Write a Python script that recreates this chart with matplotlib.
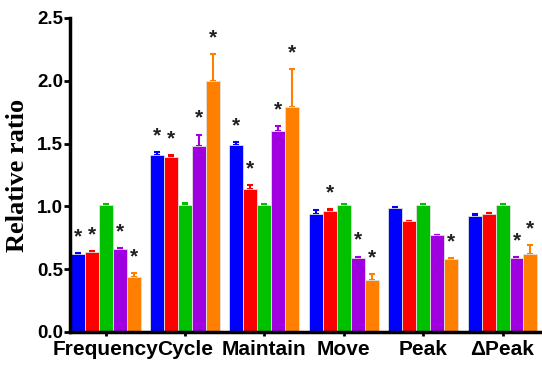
#!/usr/bin/env python3

import numpy as np
import matplotlib
matplotlib.use('Agg')
import matplotlib.pyplot as plt


# groups on the x axis
categories = ['Frequency', 'Cycle', 'Maintain', 'Move', 'Peak', '\u0394Peak']

# bar heights, one list per colour (blue, red, green, purple, orange)
blue = [0.62, 1.41, 1.49, 0.94, 0.99, 0.92]
red = [0.64, 1.39, 1.14, 0.96, 0.88, 0.94]
green = [1.01, 1.01, 1.01, 1.01, 1.01, 1.01]
purple = [0.66, 1.48, 1.60, 0.59, 0.77, 0.59]
orange = [0.44, 2.00, 1.79, 0.41, 0.58, 0.62]

# upper error (SEM) for each bar
blue_err = [0.005, 0.02, 0.02, 0.03, 0.005, 0.02]
red_err = [0.005, 0.02, 0.03, 0.02, 0.0, 0.01]
green_err = [0.01, 0.02, 0.005, 0.01, 0.005, 0.01]
purple_err = [0.005, 0.09, 0.04, 0.01, 0.005, 0.005]
orange_err = [0.03, 0.21, 0.30, 0.05, 0.01, 0.07]

# significance marks (1 = star above bar)
blue_sig = [1, 1, 1, 0, 0, 0]
red_sig = [1, 1, 1, 1, 0, 0]
green_sig = [0, 0, 0, 0, 0, 0]
purple_sig = [1, 1, 1, 1, 0, 1]
orange_sig = [1, 1, 1, 1, 1, 1]

yticks = [0.0, 0.5, 1.0, 1.5, 2.0, 2.5]


def plot_graph():
	fig = plt.figure(figsize=(5.42, 3.66), dpi=100)
	ax = fig.add_axes([0.129, 0.093, 0.867, 0.858])

	series = [
		(blue, blue_err, blue_sig, '#0000ff'),
		(red, red_err, red_sig, '#ff0000'),
		(green, green_err, green_sig, '#00c000'),
		(purple, purple_err, purple_sig, '#a000e0'),
		(orange, orange_err, orange_sig, '#ff8000'),
	]

	x = np.arange(len(categories))
	width = 0.176
	n = len(series)
	for i, (vals, errs, sigs, col) in enumerate(series):
		pos = x + (i - (n - 1) / 2) * width
		ax.bar(pos, vals, width, color=col, edgecolor='#e0e0e0', linewidth=0.6, zorder=2)
		# only the upper half of the error bar is shown
		ax.errorbar(pos, vals, yerr=[np.zeros(len(vals)), errs], fmt='none',
			ecolor=col, elinewidth=1.5, capsize=2.5, capthick=1.5, zorder=1)
		for p, v, e, s in zip(pos, vals, errs, sigs):
			if s:
				ax.annotate('*', (p, v + e), xytext=(0, 5), textcoords='offset points',
					ha='center', va='bottom', fontsize=15, color='#202020',
					family='Liberation Sans', fontweight='bold')

	ax.set_xlim(-0.45, len(categories) - 0.53)
	ax.set_ylim(0, 2.5)
	ax.set_yticks(yticks)
	ax.set_yticklabels(['%.1f' % t for t in yticks])
	ax.set_xticks(x)
	ax.set_xticklabels(categories)

	for side in ['top', 'right']:
		ax.spines[side].set_visible(False)
	for side in ['left', 'bottom']:
		ax.spines[side].set_linewidth(2.5)

	ax.tick_params(axis='y', width=2, length=4, labelsize=13.5, pad=1)
	ax.tick_params(axis='x', width=2, length=3, labelsize=15, pad=3)
	for lab in ax.get_yticklabels() + ax.get_xticklabels():
		lab.set_family('Liberation Sans')
		lab.set_fontweight('bold')

	ax.set_ylabel('Relative ratio', family='Liberation Serif', fontweight='bold',
		fontsize=19, labelpad=6)

	fig.savefig('out.png', dpi=100)


def main():
	plot_graph()


if __name__ == '__main__':
	main()
